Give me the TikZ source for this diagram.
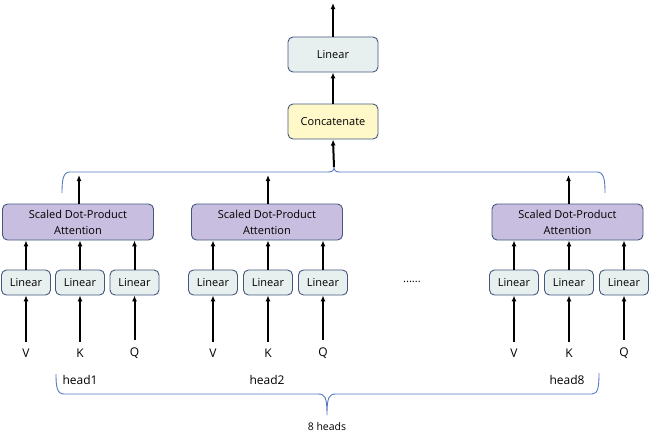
\documentclass[tikz,border=0pt]{standalone}
\usepackage{fontspec}
\setmainfont{Open Sans}
\usetikzlibrary{arrows.meta}
\definecolor{linfill}{HTML}{E8EFEF}
\definecolor{boxdraw}{HTML}{44587E}
\definecolor{attfill}{HTML}{C8BEE0}
\definecolor{catfill}{HTML}{FFF9C9}
\definecolor{bracecol}{HTML}{5479C2}
\tikzset{
  basebox/.style={draw=boxdraw, line width=0.9pt, rounded corners=5pt, font=\fontsize{11}{16}\selectfont, align=center, inner sep=0pt},
  linbox/.style={basebox, fill=linfill, minimum width=49pt, minimum height=25pt},
  toplin/.style={basebox, fill=linfill, minimum width=90pt, minimum height=35pt},
  catbox/.style={basebox, fill=catfill, minimum width=90pt, minimum height=35pt},
  attbox/.style={basebox, fill=attfill, minimum width=151pt, minimum height=36pt},
  arr/.style={-{Latex[length=6pt,width=5pt]}, line width=2pt, black},
  brace/.style={draw=bracecol, line width=0.9pt},
  lbl/.style={font=\fontsize{12}{14}\selectfont, inner sep=0pt},
}
\begin{document}
\begin{tikzpicture}[x=1pt,y=-1pt]
\useasboundingbox (0,0) rectangle (649,440);
% top part
\node[toplin] (lin) at (333,54.5) {Linear};
\node[catbox] (cat) at (333,121.5) {Concatenate};
\coordinate (out) at (333,3);
\draw[arr] (lin.north) -- (out);
\draw[arr] (cat.north) -- (lin.south);
% top brace
\coordinate (bt) at (334,167);
\draw[brace] (62,193) .. controls (62,180) and (63,172) .. (70,172) -- (328,172) .. controls (332,172) and (334,171) .. (bt) .. controls (334,171) and (336,172) .. (340,172) -- (597,172) .. controls (604,172) and (605,180) .. (605,193);
\draw[arr] (bt) -- (cat.south);
% heads
\foreach \i/\ax/\va/\vb/\vc/\hl in {1/78/26/80/134.5/head1, 2/267/213/268/323/head2, 8/567.5/514/569/624/head8}{
  \node[attbox] (att\i) at (\ax,222) {Scaled Dot-Product\\Attention};
  \coordinate (att\i top) at (\ax+1,175);
  \draw[arr] (att\i.north -| att\i top) -- (att\i top);
  \node[linbox] (lv\i) at (\va,282.5) {Linear};
  \node[linbox] (lk\i) at (\vb,282.5) {Linear};
  \node[linbox] (lq\i) at (\vc,282.5) {Linear};
  \node[lbl] (v\i) at (\va,353) {V};
  \node[lbl] (k\i) at (\vb,353) {K};
  \node[lbl] (q\i) at (\vc,353) {Q};
  \draw[arr, shorten <=7pt] (v\i.north) -- (lv\i.south);
  \draw[arr, shorten <=7pt] (k\i.north) -- (lk\i.south);
  \draw[arr, shorten <=7pt] (q\i.north) -- (lq\i.south);
  \draw[arr] (lv\i.north) -- (lv\i.north |- att\i.south);
  \draw[arr] (lk\i.north) -- (lk\i.north |- att\i.south);
  \draw[arr] (lq\i.north) -- (lq\i.north |- att\i.south);
}
\node[lbl, font=\fontsize{11}{13}\selectfont] (dots) at (412,282) {......};
% head labels
\node[lbl] (h1) at (80,380) {head1};
\node[lbl] (h2) at (267,380) {head2};
\node[lbl] (h8) at (567,380) {head8};
% bottom brace
\coordinate (bb) at (327,415);
\draw[brace] (56,374) .. controls (56,387) and (57,394) .. (64,394) -- (318,394) .. controls (325,394) and (327,397) .. (bb) .. controls (327,397) and (329,394) .. (336,394) -- (592,394) .. controls (598,394) and (599,387) .. (599,373);
\node[lbl, font=\fontsize{10.5}{12}\selectfont] (eh) at (327,427) {8 heads};
\end{tikzpicture}
\end{document}
